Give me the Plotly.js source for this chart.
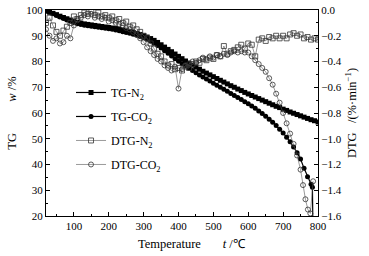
<!DOCTYPE html>
<html>
<head>
<meta charset="utf-8">
<script src="https://cdn.plot.ly/plotly-3.0.1.min.js"></script>
<style>html,body{margin:0;padding:0;background:#fff;}#chart{width:369px;height:256px;}</style>
</head>
<body>
<div id="chart"></div>
<script>
// Temperature grid (°C) for the TG-N2 series
const tgN2T = [20,30,40,50,60,70,80,90,100,110,120,130,140,150,160,170,180,190,200,210,220,230,240,250,260,270,280,290,300,310,320,330,340,350,360,370,380,390,400,410,420,430,440,450,460,470,480,490,500,510,520,530,540,550,560,570,580,590,600,610,620,630,640,650,660,670,680,690,700,710,720,730,740,750,760,770,780,790,800];
const tgN2W = [99.6,99.2,98.7,98.2,97.6,97.1,96.6,96.1,95.6,95.2,94.9,94.6,94.4,94.2,94.0,93.8,93.6,93.4,93.2,93.0,92.8,92.5,92.2,91.9,91.6,91.3,90.9,90.5,90.0,89.5,88.9,88.2,87.4,86.5,85.6,84.7,83.8,82.9,82.0,81.1,80.2,79.4,78.6,77.8,77.0,76.2,75.5,74.8,74.1,73.4,72.7,72.0,71.3,70.6,70.0,69.3,68.7,68.0,67.4,66.8,66.2,65.6,65.0,64.4,63.8,63.2,62.6,62.1,61.5,61.0,60.4,59.9,59.4,58.9,58.4,57.9,57.4,57.0,56.5];

const tgCO2T = [20,30,40,50,60,70,80,90,100,110,120,130,140,150,160,170,180,190,200,210,220,230,240,250,260,270,280,290,300,310,320,330,340,350,360,370,380,390,400,410,420,430,440,450,460,470,480,490,500,510,520,530,540,550,560,570,580,590,600,610,620,630,640,650,660,670,680,690,700,710,720,730,740,750,760,770,780,784,786];
const tgCO2W = [99.6,99.1,98.5,97.9,97.3,96.7,96.1,95.6,95.1,94.7,94.4,94.1,93.9,93.7,93.5,93.3,93.1,92.9,92.7,92.5,92.2,91.9,91.6,91.3,91.0,90.6,90.2,89.7,89.2,88.6,87.9,87.1,86.2,85.2,84.2,83.2,82.1,81.1,80.1,79.2,78.3,77.4,76.5,75.6,74.8,74.0,73.2,72.4,71.6,70.8,70.0,69.2,68.4,67.6,66.8,66.0,65.2,64.4,63.6,62.7,61.8,60.8,59.8,58.7,57.6,56.4,55.1,53.7,52.2,50.6,48.8,46.8,44.6,42.1,38.5,35.2,32.3,31.2,10];

const dtgN2T = [20,30,40,50,60,70,80,90,100,110,120,130,140,150,160,170,180,190,200,210,220,230,240,250,260,270,280,290,300,310,320,330,340,350,360,370,380,390,400,410,420,430,440,450,460,470,480,490,500,510,520,530,540,550,560,570,580,590,600,610,620,630,640,650,660,670,680,690,700,710,720,730,740,750,760,770,780,790,800];
const dtgN2D = [-0.10,-0.06,-0.12,-0.17,-0.20,-0.16,-0.13,-0.10,-0.05,-0.07,-0.04,-0.02,-0.03,-0.01,-0.04,-0.02,-0.05,-0.04,-0.06,-0.05,-0.08,-0.07,-0.10,-0.09,-0.13,-0.12,-0.15,-0.17,-0.20,-0.22,-0.26,-0.30,-0.34,-0.36,-0.40,-0.43,-0.42,-0.46,-0.45,-0.47,-0.44,-0.45,-0.42,-0.40,-0.41,-0.38,-0.39,-0.37,-0.38,-0.35,-0.36,-0.28,-0.34,-0.32,-0.31,-0.29,-0.27,-0.30,-0.26,-0.27,-0.36,-0.23,-0.22,-0.24,-0.21,-0.22,-0.20,-0.22,-0.20,-0.22,-0.19,-0.18,-0.20,-0.19,-0.22,-0.21,-0.23,-0.22,-0.23];

const dtgCO2T = [20,30,40,50,60,70,80,90,100,110,120,130,140,150,160,170,180,190,200,210,220,230,240,250,260,270,280,290,300,310,320,330,340,350,360,370,380,390,400,410,420,430,440,450,460,470,480,490,500,510,520,530,540,550,560,570,580,590,600,610,620,630,640,650,660,670,680,690,700,710,720,730,740,750,757,764,771,778,786];
const dtgCO2D = [-0.15,-0.20,-0.24,-0.22,-0.26,-0.25,-0.20,-0.22,-0.12,-0.08,-0.06,-0.04,-0.05,-0.03,-0.06,-0.05,-0.07,-0.06,-0.09,-0.08,-0.10,-0.11,-0.12,-0.14,-0.15,-0.17,-0.19,-0.22,-0.25,-0.29,-0.32,-0.35,-0.38,-0.40,-0.43,-0.45,-0.47,-0.44,-0.61,-0.46,-0.43,-0.42,-0.40,-0.41,-0.39,-0.37,-0.38,-0.36,-0.37,-0.35,-0.36,-0.34,-0.35,-0.33,-0.32,-0.33,-0.32,-0.33,-0.33,-0.36,-0.39,-0.42,-0.45,-0.48,-0.53,-0.58,-0.65,-0.72,-0.80,-0.88,-0.96,-1.04,-1.13,-1.24,-1.36,-1.47,-1.55,-1.58,-1.33];

const seriesNames = ['TG-N<sub>2</sub>','TG-CO<sub>2</sub>','DTG-N<sub>2</sub>','DTG-CO<sub>2</sub>'];

const font = 'Liberation Serif, Times New Roman, serif';
const nb = n => '\u00a0'.repeat(n);

const traces = [
  {x: tgN2T, y: tgN2W, name: seriesNames[0], mode: 'lines+markers', legendgroup: 'a',
   line: {color: '#000', width: 1.2}, marker: {symbol: 'square', size: 5, color: '#000'}},
  {x: tgCO2T, y: tgCO2W, name: seriesNames[1], mode: 'lines+markers', legendgroup: 'b',
   line: {color: '#000', width: 1.2}, marker: {symbol: 'circle', size: 5, color: '#000'}},
  {x: dtgN2T, y: dtgN2D, name: seriesNames[2], mode: 'lines+markers', yaxis: 'y2', legendgroup: 'c',
   line: {color: '#555', width: 0.6}, marker: {symbol: 'square-open', size: 5, color: '#333', line: {width: 0.8}}},
  {x: dtgCO2T, y: dtgCO2D, name: seriesNames[3], mode: 'lines+markers', yaxis: 'y2', legendgroup: 'd',
   line: {color: '#555', width: 0.6}, marker: {symbol: 'circle-open', size: 5, color: '#333', line: {width: 0.8}}}
];

const layout = {
  width: 369, height: 256,
  margin: {l: 46, r: 51, t: 10, b: 40},
  paper_bgcolor: '#fff', plot_bgcolor: '#fff',
  font: {family: font, size: 11, color: '#000'},
  showlegend: true,
  legend: {x: 0.092, y: 0.67, xanchor: 'left', yanchor: 'top', bgcolor: 'rgba(0,0,0,0)',
           traceorder: 'grouped', tracegroupgap: 5, font: {family: font, size: 12}, itemwidth: 30},
  xaxis: {
    range: [20, 800], showline: true, linecolor: '#000', linewidth: 1, mirror: true,
    ticks: 'inside', ticklen: 4, tickcolor: '#000', dtick: 100, tick0: 0,
    minor: {ticks: 'inside', ticklen: 2, dtick: 50, tickcolor: '#000'},
    showgrid: false, zeroline: false,
    tickfont: {family: font, size: 11},
    title: {text: '\u200b' + nb(6) + 'Temperature' + nb(7) + '<i>t</i> /\u2103', font: {family: font, size: 12.5}, standoff: 8}
  },
  yaxis: {
    range: [20, 100], showline: true, linecolor: '#000', linewidth: 1,
    ticks: 'inside', ticklen: 4, tickcolor: '#000', dtick: 10,
    minor: {ticks: 'inside', ticklen: 2, dtick: 5, tickcolor: '#000'},
    showgrid: false, zeroline: false,
    tickfont: {family: font, size: 11},
    title: {text: 'TG' + nb(10) + '<i>w</i> /%', font: {family: font, size: 12.5}, standoff: 6}
  },
  yaxis2: {
    range: [-1.6, 0], overlaying: 'y', side: 'right', anchor: 'x',
    showline: true, linecolor: '#000', linewidth: 1,
    ticks: 'inside', ticklen: 4, tickcolor: '#000', dtick: 0.2, tickformat: '.1f',
    minor: {ticks: 'inside', ticklen: 2, dtick: 0.1, tickcolor: '#000'},
    showgrid: false, zeroline: false,
    tickfont: {family: font, size: 11},
    title: {text: 'DTG' + nb(3) + '/(%\u00b7min<sup>\u22121</sup>)', font: {family: font, size: 12.5}, standoff: 6}
  }
};

Plotly.newPlot('chart', traces, layout, {staticPlot: true, displayModeBar: false});
</script>
</body>
</html>
